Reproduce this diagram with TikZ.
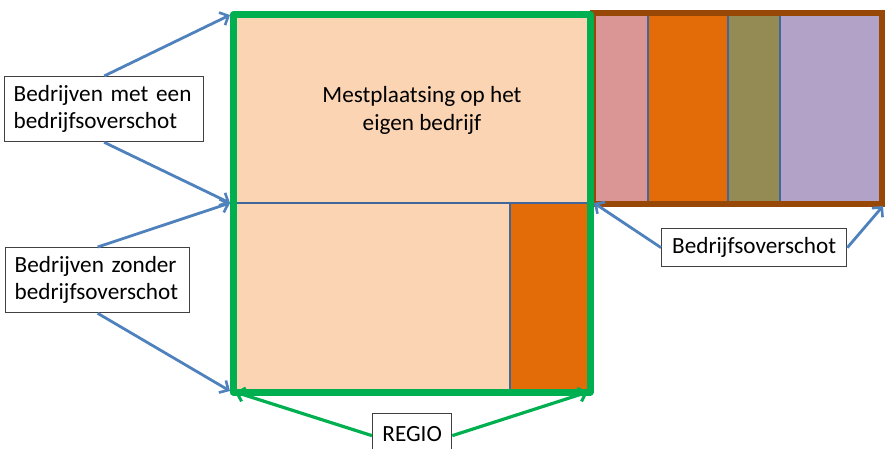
\documentclass[tikz,border=0pt]{standalone}
\usepackage{fontspec}
\setmainfont{Carlito}
\usetikzlibrary{arrows.meta}
\definecolor{peach}{HTML}{FBD4B4}
\definecolor{orng}{HTML}{E36C09}
\definecolor{pinkc}{HTML}{D99694}
\definecolor{olive}{HTML}{948A54}
\definecolor{lav}{HTML}{B2A2C7}
\definecolor{brn}{HTML}{984806}
\definecolor{grn}{HTML}{00B050}
\definecolor{blu}{HTML}{4F81BD}
\definecolor{divc}{HTML}{41669A}
\definecolor{boxc}{HTML}{404040}
\tikzset{
  lbl/.style={draw=boxc, line width=1.3pt, fill=white, font=\fontsize{23.2}{27.5}\selectfont, align=left, inner xsep=9pt, inner ysep=0pt, anchor=north west},
  barrow/.style={draw=blu, line width=2.8pt, -{Straight Barb[length=7pt,width=14pt,line width=2.6pt]}},
  garrow/.style={draw=grn, line width=3.2pt, -{Straight Barb[length=7pt,width=14pt,line width=3pt]}},
  divider/.style={draw=divc, line width=1.6pt}
}
\begin{document}
\begin{tikzpicture}[x=1pt,y=-1pt]
\useasboundingbox (0,0) rectangle (885,449);
% brown block
\fill[pinkc] (593,13) rectangle (648,204);
\fill[orng] (648,13) rectangle (728,204);
\fill[olive] (728,13) rectangle (780,204);
\fill[lav] (780,13) rectangle (882,204);
\draw[divider] (648,13) -- (648,204);
\draw[divider] (728,13) -- (728,204);
\draw[divider] (780,13) -- (780,204);
\draw[brn, line width=6pt] (593,13) rectangle (882,204);
% green block
\fill[peach] (233,15) rectangle (590,392);
\fill[orng] (510,203) rectangle (590,392);
\draw[divider] (233,203) -- (590,203);
\draw[divider] (510,203) -- (510,392);
\draw[grn, line width=7pt, line join=round] (233,15) rectangle (590,392);
\node[font=\fontsize{23.2}{28}\selectfont, align=center] (mest) at (422,110) {Mestplaatsing op het\\eigen bedrijf};
% coordinates
\coordinate (tl) at (230,15);
\coordinate (ml) at (230,203);
\coordinate (bl) at (230,391);
\coordinate (mr) at (594,203);
\coordinate (br) at (883,206);
\coordinate (gbl) at (235,392);
\coordinate (gbr) at (588,392);
% label boxes
\node[lbl, minimum height=65pt, text width=181pt] (met) at (4,76) {Bedrijven met een\\bedrijfsoverschot};
\node[lbl, minimum height=65pt, text width=166pt] (zonder) at (5,247) {Bedrijven zonder\\bedrijfsoverschot};
\node[lbl, minimum width=185pt, minimum height=38pt, align=center] (over) at (661,228) {Bedrijfsoverschot};
\node[lbl, minimum width=79pt, minimum height=40pt, align=center] (regio) at (372,413) {REGIO};
% arrows
\draw[barrow] (met.north) -- (tl);
\draw[barrow] (met.south) -- (ml);
\draw[barrow] (zonder.north) -- (ml);
\draw[barrow] (zonder.south) -- (bl);
\draw[barrow] (over.west) -- (mr);
\draw[barrow] (over.east) -- (br);
\draw[garrow] ([yshift=-2pt]regio.west) -- (gbl);
\draw[garrow] ([yshift=-2pt]regio.east) -- (gbr);
\end{tikzpicture}
\end{document}
